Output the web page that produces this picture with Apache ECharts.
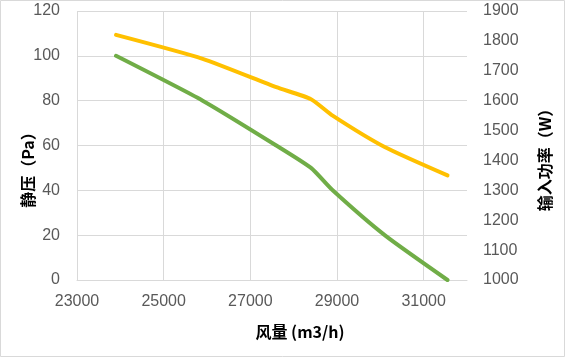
<!DOCTYPE html>
<html>
<head>
<meta charset="utf-8">
<script src="https://cdn.jsdelivr.net/npm/echarts@6/dist/echarts.min.js"></script>
<style>html,body{margin:0;padding:0;background:#fff}#c{width:565px;height:357px}</style>
</head>
<body>
<div id="c"></div>
<script>
const airflow = [23900, 25900, 27600, 28400, 28900, 30100, 31550];
const staticPressure = [100, 80, 60, 50, 40, 20, 0];
const inputPower = [1820, 1740, 1645, 1605, 1550, 1445, 1350];
const xTicks = [23000, 25000, 27000, 29000, 31000];
const xTitle = '风量 (m3/h)';
const leftTitle = '静压（Pa）';
const rightTitle = '输入功率（W）';

const chart = echarts.init(document.getElementById('c'), null, {renderer: 'canvas'});
const labelStyle = {color: '#595959', fontSize: 16, fontFamily: 'Liberation Sans', formatter: v => String(v)};
const titleStyle = {fill: '#000', fontSize: 16, fontWeight: 'bold', fontFamily: '"Noto Sans CJK SC"'};
chart.setOption({
  animation: false,
  backgroundColor: '#fff',
  grid: {left: 77, right: 98, top: 11, bottom: 77, containLabel: false},
  xAxis: {
    type: 'value', min: 23000, max: 32000, interval: 2000,
    axisLine: {show: true, lineStyle: {color: '#d9d9d9', width: 1}},
    axisTick: {show: false, customValues: xTicks},
    axisLabel: Object.assign({margin: 14, customValues: xTicks}, labelStyle),
    splitLine: {show: true, lineStyle: {color: '#d9d9d9', width: 1}}
  },
  yAxis: [
    {
      type: 'value', min: 0, max: 120, interval: 20, position: 'left',
      axisLine: {show: false}, axisTick: {show: false},
      axisLabel: Object.assign({margin: 17}, labelStyle),
      splitLine: {show: true, lineStyle: {color: '#d9d9d9', width: 1}}
    },
    {
      type: 'value', min: 1000, max: 1900, interval: 100, position: 'right',
      axisLine: {show: false}, axisTick: {show: false},
      axisLabel: Object.assign({margin: 16}, labelStyle),
      splitLine: {show: false}
    }
  ],
  series: [
    {
      name: '静压', type: 'line', yAxisIndex: 0, smooth: 0.2, showSymbol: false,
      data: airflow.map((x, i) => [x, staticPressure[i]]),
      lineStyle: {color: '#70AD47', width: 4, cap: 'round'}, itemStyle: {color: '#70AD47'}
    },
    {
      name: '输入功率', type: 'line', yAxisIndex: 1, smooth: 0.2, showSymbol: false,
      data: airflow.map((x, i) => [x, inputPower[i]]),
      lineStyle: {color: '#FFC000', width: 4, cap: 'round'}, itemStyle: {color: '#FFC000'}
    }
  ],
  graphic: [
    {type: 'rect', shape: {x: 0.5, y: 0.5, width: 564, height: 356}, style: {fill: 'none', stroke: '#d9d9d9', lineWidth: 1}, silent: true},
    {type: 'text', x: 300, y: 332, style: Object.assign({text: xTitle, align: 'center', verticalAlign: 'middle'}, titleStyle)},
    {type: 'text', x: 28, y: 166, rotation: Math.PI / 2, style: Object.assign({text: leftTitle, align: 'center', verticalAlign: 'middle'}, titleStyle)},
    {type: 'text', x: 545, y: 156, rotation: Math.PI / 2, style: Object.assign({text: rightTitle, align: 'center', verticalAlign: 'middle'}, titleStyle)}
  ]
});
</script>
</body>
</html>
